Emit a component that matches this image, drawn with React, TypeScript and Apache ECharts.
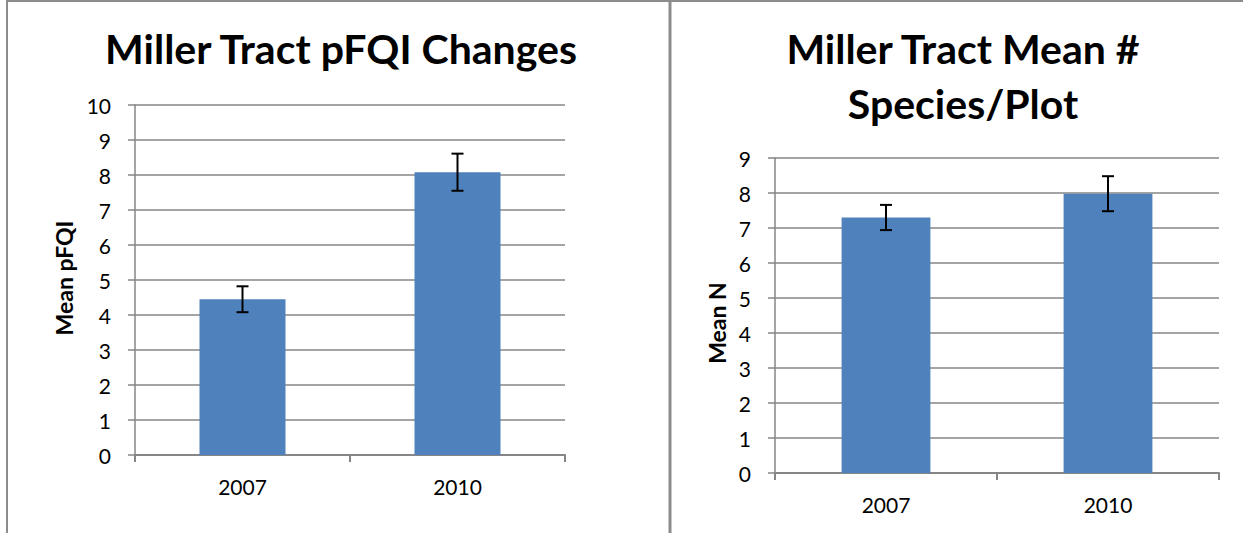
import React, { useEffect, useRef } from "react";
import * as echarts from "echarts";

const categories = ["2007", "2010"];
const pfqiMeans = [4.45, 8.08];
const pfqiErrors = [0.37, 0.53];
const speciesMeans = [7.3, 7.98];
const speciesErrors = [0.36, 0.5];
const pfqiTicks = { min: 0, max: 10, interval: 1 };
const speciesTicks = { min: 0, max: 9, interval: 1 };

const FONT = "Lato, 'Open Sans', sans-serif";
const GREY = "#868686";
const BAR = "#4f81bd";

function errorData(means: number[], errs: number[]) {
  return means.map((m, i) => [i, m - errs[i], m + errs[i]]);
}

function renderError(params: any, api: any) {
  const x = api.value(0);
  const lo = api.coord([x, api.value(1)]);
  const hi = api.coord([x, api.value(2)]);
  const cap = 6;
  const style = { stroke: "#000", lineWidth: 2 };
  return {
    type: "group",
    children: [
      { type: "line", shape: { x1: hi[0], y1: hi[1], x2: lo[0], y2: lo[1] }, style },
      { type: "line", shape: { x1: hi[0] - cap, y1: hi[1], x2: hi[0] + cap, y2: hi[1] }, style },
      { type: "line", shape: { x1: lo[0] - cap, y1: lo[1], x2: lo[0] + cap, y2: lo[1] }, style },
    ],
  };
}

function yAxis(gridIndex: number, ticks: any) {
  return {
    type: "value",
    gridIndex,
    min: ticks.min,
    max: ticks.max,
    interval: ticks.interval,
    axisLine: { show: true, lineStyle: { color: GREY, width: 1.5 } },
    axisTick: { show: true, length: 7, lineStyle: { color: GREY, width: 1.5 } },
    axisLabel: { fontFamily: FONT, fontSize: 21, color: "#000", margin: 24 },
    splitLine: { show: true, lineStyle: { color: GREY, width: 1.5 } },
  };
}

function xAxis(gridIndex: number) {
  return {
    type: "category",
    gridIndex,
    data: categories,
    boundaryGap: true,
    axisLine: { show: true, lineStyle: { color: GREY, width: 2 } },
    axisTick: { show: true, length: 7, lineStyle: { color: GREY, width: 2 } },
    axisLabel: { fontFamily: FONT, fontSize: 21, color: "#000", margin: 21 },
  };
}

function axisName(text: string, x: number, y: number) {
  return {
    type: "text",
    x,
    y,
    rotation: Math.PI / 2,
    style: {
      text,
      align: "center",
      verticalAlign: "middle",
      fontFamily: FONT,
      fontWeight: "bold",
      fontSize: 23,
      fill: "#000",
    },
  };
}

export default function App() {
  const ref = useRef<HTMLDivElement>(null);
  useEffect(() => {
    if (!ref.current) return;
    const chart = echarts.init(ref.current, undefined, { renderer: "svg" });
    chart.setOption({
      animation: false,
      backgroundColor: "#fff",
      title: [
        {
          text: "Miller Tract pFQI Changes",
          left: 336,
          top: 23,
          textAlign: "center",
          textStyle: { fontFamily: FONT, fontWeight: "bold", fontSize: 41, color: "#000" },
        },
        {
          text: "Miller Tract Mean #\nSpecies/Plot",
          left: 958,
          top: 16,
          textAlign: "center",
          textStyle: { fontFamily: FONT, fontWeight: "bold", fontSize: 41, color: "#000", lineHeight: 55 },
        },
      ],
      graphic: [
        { type: "line", shape: { x1: 7, y1: 0, x2: 7, y2: 533 }, style: { stroke: "#8c8c8c", lineWidth: 2 } },
        { type: "line", shape: { x1: 7, y1: 1, x2: 1243, y2: 1 }, style: { stroke: "#8c8c8c", lineWidth: 2 } },
        { type: "line", shape: { x1: 670, y1: 0, x2: 670, y2: 533 }, style: { stroke: "#8c8c8c", lineWidth: 3 } },
        axisName("Mean pFQI", 64, 278),
        axisName("Mean N", 717, 323),
      ],
      grid: [
        { left: 135, top: 105, right: 678, bottom: 78 },
        { left: 775, top: 158, right: 24, bottom: 60 },
      ],
      xAxis: [xAxis(0), xAxis(1)],
      yAxis: [yAxis(0, pfqiTicks), yAxis(1, speciesTicks)],
      series: [
        {
          type: "bar",
          xAxisIndex: 0,
          yAxisIndex: 0,
          data: pfqiMeans,
          barWidth: "40%",
          itemStyle: { color: BAR },
        },
        {
          type: "custom",
          xAxisIndex: 0,
          yAxisIndex: 0,
          data: errorData(pfqiMeans, pfqiErrors),
          encode: { x: 0, y: [1, 2] },
          renderItem: renderError,
          z: 10,
        },
        {
          type: "bar",
          xAxisIndex: 1,
          yAxisIndex: 1,
          data: speciesMeans,
          barWidth: "40%",
          itemStyle: { color: BAR },
        },
        {
          type: "custom",
          xAxisIndex: 1,
          yAxisIndex: 1,
          data: errorData(speciesMeans, speciesErrors),
          encode: { x: 0, y: [1, 2] },
          renderItem: renderError,
          z: 10,
        },
      ],
    });
    return () => chart.dispose();
  }, []);
  return (
    <div
      ref={ref}
      style={{ position: "fixed", left: 0, top: 0, width: 1243, height: 533 }}
    />
  );
}
